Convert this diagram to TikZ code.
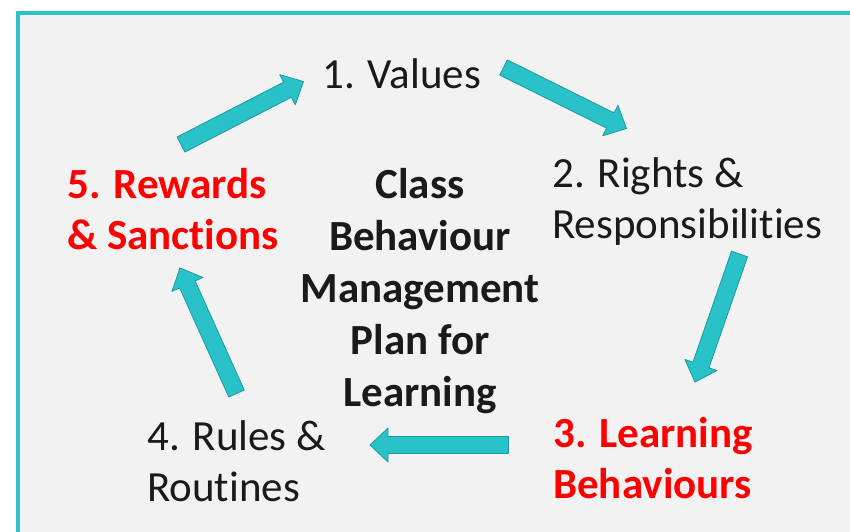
\documentclass[tikz,border=0pt]{standalone}
\usepackage{fontspec}
\setmainfont{Carlito}[Ligatures={NoCommon}]
\usetikzlibrary{calc}

\definecolor{panelbg}{HTML}{F2F2F2}
\definecolor{tealframe}{HTML}{2CC4CA}
\definecolor{tealfill}{HTML}{28C2C8}
\definecolor{tealedge}{HTML}{1C9CA2}
\definecolor{stagered}{HTML}{FF0000}
\definecolor{inktext}{HTML}{1A1A1A}

% Block arrow from tail coordinate #1 to tip coordinate #2
\newcommand\blockarrow[2]{%
  \coordinate (ba-q) at ($(#2)!18pt!(#1)$);
  \filldraw[cyclearrow]
    ($(#1)!8.5pt!90:(#2)$) -- ($(ba-q)!8.5pt!-90:(#1)$) -- ($(ba-q)!17pt!-90:(#1)$)
    -- (#2) -- ($(ba-q)!17pt!90:(#1)$) -- ($(ba-q)!8.5pt!90:(#1)$)
    -- ($(#1)!8.5pt!-90:(#2)$) -- cycle;}

\begin{document}
\begin{tikzpicture}[x=1pt,y=-1pt,
  cyclearrow/.style={fill=tealfill,draw=tealedge,line width=0.8pt,line join=round},
  stagetext/.style={anchor=base west,inner sep=0pt,text=inktext,
    font=\fontsize{43}{51}\selectfont},
  stagehot/.style={stagetext,text=stagered,font=\fontsize{43}{51}\selectfont\bfseries},
  titletext/.style={anchor=base,inner sep=0pt,text=inktext,
    font=\fontsize{43}{52}\selectfont\bfseries}]

\useasboundingbox (0,0) rectangle (850,531);
\clip (0,0) rectangle (850,531);
\fill[white] (0,0) rectangle (850,531);
\filldraw[fill=panelbg,draw=tealframe,line width=4pt] (17.5,12.5) rectangle (900,600);

% stage labels
\node[stagetext] (values) at (322,88) {1. Values};
\node[stagetext] (rights) at (552,187)
  {\begin{tabular}[t]{@{}l@{}}2. Rights \&\\Responsibilities\end{tabular}};
\node[stagehot] (learning) at (553,447)
  {\begin{tabular}[t]{@{}l@{}}3. Learning\\Behaviours\end{tabular}};
\node[stagetext] (rules) at (147,450)
  {\begin{tabular}[t]{@{}l@{}}4. Rules \&\\Routines\end{tabular}};
\node[stagehot] (rewards) at (67,198)
  {\begin{tabular}[t]{@{}l@{}}5. Rewards\\\& Sanctions\end{tabular}};

% central title
\node[titletext] (plan) at (420,198)
  {\begin{tabular}[t]{@{}c@{}}Class\\Behaviour\\Management\\Plan for\\Learning\end{tabular}};

% arrow end points
\coordinate (a1t) at (181,144.5);   \coordinate (a1h) at (303.5,81.5);
\coordinate (a2t) at (503.5,67.5);  \coordinate (a2h) at (626.5,128.5);
\coordinate (a3t) at (739.5,254);   \coordinate (a3h) at (695,382);
\coordinate (a4t) at (508.5,445);   \coordinate (a4h) at (370,445);
\coordinate (a5t) at (236.5,393.5); \coordinate (a5h) at (180,268);

\blockarrow{a1t}{a1h}
\blockarrow{a2t}{a2h}
\blockarrow{a3t}{a3h}
\blockarrow{a4t}{a4h}
\blockarrow{a5t}{a5h}
\end{tikzpicture}
\end{document}
